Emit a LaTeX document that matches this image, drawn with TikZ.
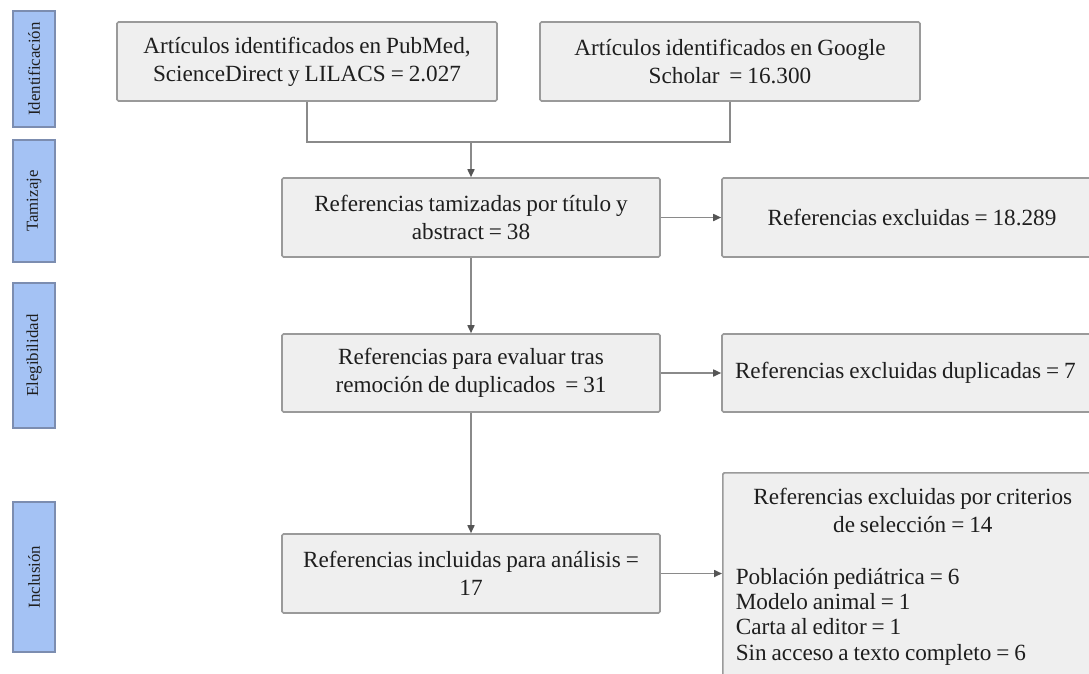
\documentclass[tikz,border=0pt]{standalone}
\usepackage{fontspec}
\setmainfont{Liberation Serif}[WordSpace=0.85]
\usetikzlibrary{arrows.meta}
\definecolor{boxfill}{HTML}{EFEFEF}
\definecolor{boxline}{HTML}{9A9A9A}
\definecolor{labfill}{HTML}{A4C2F4}
\definecolor{labline}{HTML}{7C8DB0}
\definecolor{connc}{HTML}{8A8A8A}
\definecolor{tipc}{HTML}{555555}
\definecolor{txt}{HTML}{1E1E1E}
\begin{document}
\begin{tikzpicture}[x=1pt,y=-1pt,
  box/.style={draw=boxline, fill=boxfill, line width=1.6pt, rounded corners=1.5pt,
    inner sep=0pt, align=center, text=txt, font=\fontsize{23.2}{28}\selectfont},
  lab/.style={draw=labline, fill=labfill, line width=1.2pt, inner sep=0pt,
    rotate=90, text=txt, font=\fontsize{16.8}{19}\selectfont},
  conn/.style={draw=connc, line width=1.6pt},
  arr/.style={conn, -{Triangle[length=8pt,width=7pt,color=tipc]}}]
\useasboundingbox (0,0) rectangle (1089,673);
\clip (0,0) rectangle (1089,673);
\fill[white] (0,0) rectangle (1089,673);

% phase labels
\node[lab, minimum width=116pt, minimum height=42pt] (L1) at (34,69) {Identificación};
\node[lab, minimum width=122pt, minimum height=42pt] (L2) at (34,201) {Tamizaje};
\node[lab, minimum width=145pt, minimum height=42pt] (L3) at (34,355.5) {Elegibilidad};
\node[lab, minimum width=150pt, minimum height=42pt] (L4) at (34,577) {Inclusión};

% boxes
\node[box, minimum width=380pt, minimum height=79pt] (A) at (307,61.5)
  {Artículos identificados en PubMed,\\ScienceDirect y LILACS = 2.027};
\node[box, minimum width=380pt, minimum height=79pt] (B) at (730,61.5)
  {Artículos identificados en Google\\Scholar \ = 16.300};
\node[box, minimum width=378pt, minimum height=79pt] (C) at (471,217.5)
  {Referencias tamizadas por título y\\abstract = 38};
\node[box, minimum width=380pt, minimum height=79pt] (D) at (912,217.5)
  {\makebox[354pt][c]{Referencias excluidas = 18.289}};
\node[box, minimum width=378pt, minimum height=78pt] (E) at (471,373)
  {Referencias para evaluar tras\\remoción de duplicados \ = 31};
\node[box, minimum width=380pt, minimum height=78pt] (F) at (912,373)
  {\makebox[354pt][l]{Referencias excluidas duplicadas = 7}};
\node[box, anchor=north west, minimum width=380pt,
  inner xsep=13pt, inner ysep=15pt] (H) at (722,472)
  {Referencias excluidas por criterios\\
   de selección = 14\\[24pt]
   \makebox[354pt][l]{Población pediátrica = 6}\\[-2.6pt]
   \makebox[354pt][l]{Modelo animal = 1}\\[-2.6pt]
   \makebox[354pt][l]{Carta al editor = 1}\\[-2.6pt]
   \makebox[354pt][l]{Sin acceso a texto completo = 6}};
\node[box, minimum width=378pt, minimum height=79pt] (G) at (471,573.5)
  {Referencias incluidas para análisis =\\17};

% connectors
\coordinate (J) at (471,142);
\draw[conn] (A.south) |- (J);
\draw[conn] (B.south) |- (J);
\draw[arr] (J) -- (C.north);
\draw[arr] (C.east) -- (D.west);
\draw[arr] (C.south) -- (E.north);
\draw[arr] (E.east) -- (F.west);
\draw[arr] (E.south) -- (G.north);
\draw[arr] (G.east) -- (G.east -| H.west);
\end{tikzpicture}
\end{document}
